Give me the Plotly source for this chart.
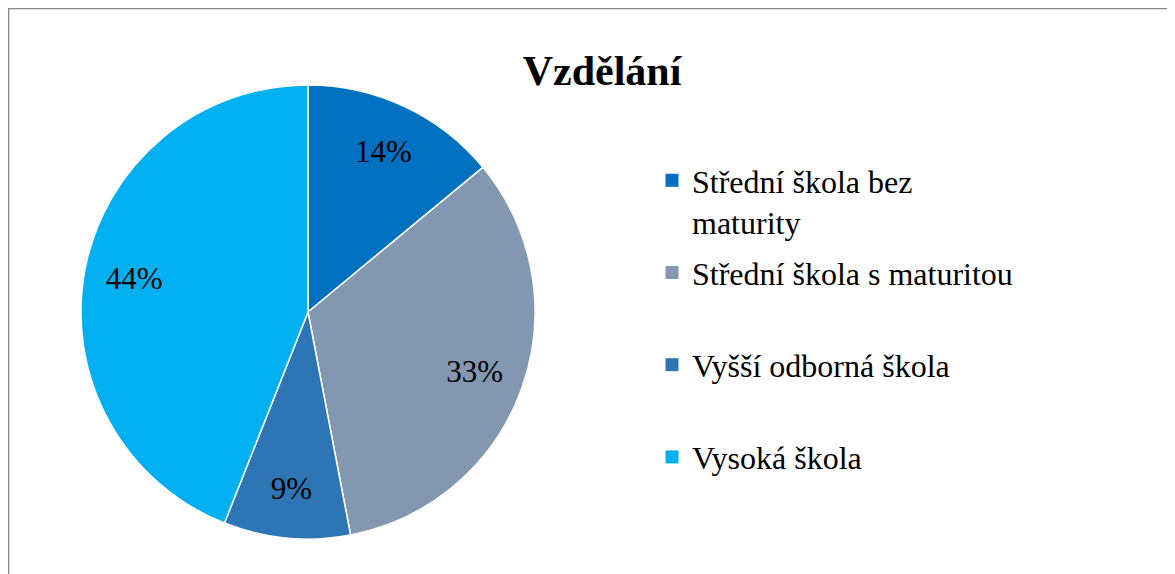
import plotly.graph_objects as go

categories = ["Střední škola bez maturity", "Střední škola s maturitou",
              "Vyšší odborná škola", "Vysoká škola"]
values = [14, 33, 9, 44]
colors = ["#0070C0", "#8497B0", "#2E75B6", "#00B0F0"]
title = "Vzdělání"

# page is rendered with an 8px body margin; work in page pixels
OFF = 8
W, H = 1175 - OFF, 574 - OFF
FONT = "Liberation Serif"


def fx(px):
    return (px - OFF) / W


def fy(py):
    return 1 - (py - OFF) / H


# legend labels: wrap the long one, pad others so entries get equal height
legend_labels = []
for c in categories:
    if c == "Střední škola bez maturity":
        legend_labels.append("Střední škola bez<br>maturity")
    else:
        legend_labels.append(c + "<br>&nbsp;")

pie_domain = dict(x=[fx(81), fx(535)], y=[fy(539), fy(85)])

# main pie (colours)
fig = go.Figure(go.Pie(
    labels=categories,
    values=values,
    sort=False,
    direction="clockwise",
    rotation=0,
    marker=dict(colors=colors, line=dict(color="white", width=1.5)),
    textinfo="none",
    domain=pie_domain,
    showlegend=False,
    hoverinfo="label+percent",
))

# transparent ring carrying the data labels, placed towards the outer edge
fig.add_trace(go.Pie(
    labels=categories,
    values=values,
    sort=False,
    direction="clockwise",
    rotation=0,
    hole=0.56,
    marker=dict(colors=["rgba(0,0,0,0)"] * len(values), line=dict(width=0)),
    texttemplate="%{percent:.0%}",
    textposition="inside",
    insidetextorientation="horizontal",
    textfont=dict(family=FONT, size=31, color="black"),
    domain=pie_domain,
    showlegend=False,
    hoverinfo="skip",
))

# legend entries (one group per category so spacing can be controlled)
for lab, col in zip(legend_labels, colors):
    fig.add_trace(go.Scatter(
        x=[None], y=[None], mode="markers", name=lab, legendgroup=lab,
        marker=dict(symbol="square", size=13, color=col, line=dict(width=0)),
        showlegend=True, hoverinfo="skip",
    ))

fig.update_layout(
    width=W, height=H,
    margin=dict(l=0, r=0, t=0, b=0),
    paper_bgcolor="white",
    plot_bgcolor="white",
    xaxis=dict(visible=False),
    yaxis=dict(visible=False),
    title=dict(text="<b>" + title + "</b>", x=fx(602), xanchor="center",
               y=fy(70), yanchor="middle",
               font=dict(family=FONT, size=42, color="black")),
    legend=dict(x=fx(652), xanchor="left", y=fy(153), yanchor="top",
                valign="top", traceorder="grouped", tracegroupgap=6,
                font=dict(family=FONT, size=32, color="black"),
                bgcolor="rgba(0,0,0,0)"),
    shapes=[dict(type="rect", xref="paper", yref="paper",
                 x0=0.5 / W, x1=fx(1174.5), y0=-0.05, y1=1 - 0.5 / H,
                 line=dict(color="#898989", width=1.5), fillcolor="rgba(0,0,0,0)")],
)

fig.write_html("out.html")
